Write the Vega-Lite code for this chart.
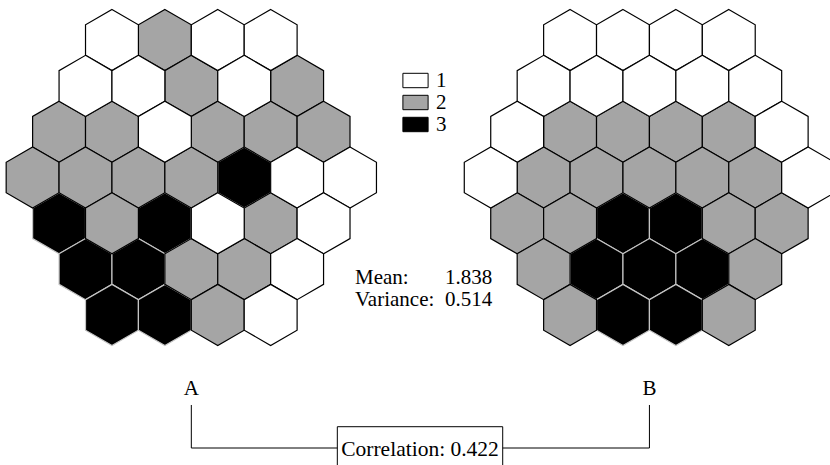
{
  "$schema": "https://vega.github.io/schema/vega-lite/v6.json",
  "width": 830,
  "height": 465,
  "autosize": {"type": "fit", "contains": "padding"},
  "padding": 0,
  "background": "white",
  "config": {"view": {"stroke": null}, "font": "Liberation Serif"},
  "layer": [
    {
      "data": {"values": [
        {"grid": "A", "y": 0, "x": -3, "v": 1}, {"grid": "A", "y": 0, "x": -1, "v": 2}, {"grid": "A", "y": 0, "x": 1, "v": 1}, {"grid": "A", "y": 0, "x": 3, "v": 1},
        {"grid": "A", "y": 1, "x": -4, "v": 1}, {"grid": "A", "y": 1, "x": -2, "v": 1}, {"grid": "A", "y": 1, "x": 0, "v": 2}, {"grid": "A", "y": 1, "x": 2, "v": 1}, {"grid": "A", "y": 1, "x": 4, "v": 2},
        {"grid": "A", "y": 2, "x": -5, "v": 2}, {"grid": "A", "y": 2, "x": -3, "v": 2}, {"grid": "A", "y": 2, "x": -1, "v": 1}, {"grid": "A", "y": 2, "x": 1, "v": 2}, {"grid": "A", "y": 2, "x": 3, "v": 2}, {"grid": "A", "y": 2, "x": 5, "v": 2},
        {"grid": "A", "y": 3, "x": -6, "v": 2}, {"grid": "A", "y": 3, "x": -4, "v": 2}, {"grid": "A", "y": 3, "x": -2, "v": 2}, {"grid": "A", "y": 3, "x": 0, "v": 2}, {"grid": "A", "y": 3, "x": 2, "v": 3}, {"grid": "A", "y": 3, "x": 4, "v": 1}, {"grid": "A", "y": 3, "x": 6, "v": 1},
        {"grid": "A", "y": 4, "x": -5, "v": 3}, {"grid": "A", "y": 4, "x": -3, "v": 2}, {"grid": "A", "y": 4, "x": -1, "v": 3}, {"grid": "A", "y": 4, "x": 1, "v": 1}, {"grid": "A", "y": 4, "x": 3, "v": 2}, {"grid": "A", "y": 4, "x": 5, "v": 1},
        {"grid": "A", "y": 5, "x": -4, "v": 3}, {"grid": "A", "y": 5, "x": -2, "v": 3}, {"grid": "A", "y": 5, "x": 0, "v": 2}, {"grid": "A", "y": 5, "x": 2, "v": 2}, {"grid": "A", "y": 5, "x": 4, "v": 1},
        {"grid": "A", "y": 6, "x": -3, "v": 3}, {"grid": "A", "y": 6, "x": -1, "v": 3}, {"grid": "A", "y": 6, "x": 1, "v": 2}, {"grid": "A", "y": 6, "x": 3, "v": 1},
        {"grid": "B", "y": 0, "x": 14.32, "v": 1}, {"grid": "B", "y": 0, "x": 16.32, "v": 1}, {"grid": "B", "y": 0, "x": 18.32, "v": 1}, {"grid": "B", "y": 0, "x": 20.32, "v": 1},
        {"grid": "B", "y": 1, "x": 13.32, "v": 1}, {"grid": "B", "y": 1, "x": 15.32, "v": 1}, {"grid": "B", "y": 1, "x": 17.32, "v": 1}, {"grid": "B", "y": 1, "x": 19.32, "v": 1}, {"grid": "B", "y": 1, "x": 21.32, "v": 1},
        {"grid": "B", "y": 2, "x": 12.32, "v": 1}, {"grid": "B", "y": 2, "x": 14.32, "v": 2}, {"grid": "B", "y": 2, "x": 16.32, "v": 2}, {"grid": "B", "y": 2, "x": 18.32, "v": 2}, {"grid": "B", "y": 2, "x": 20.32, "v": 2}, {"grid": "B", "y": 2, "x": 22.32, "v": 1},
        {"grid": "B", "y": 3, "x": 11.32, "v": 1}, {"grid": "B", "y": 3, "x": 13.32, "v": 2}, {"grid": "B", "y": 3, "x": 15.32, "v": 2}, {"grid": "B", "y": 3, "x": 17.32, "v": 2}, {"grid": "B", "y": 3, "x": 19.32, "v": 2}, {"grid": "B", "y": 3, "x": 21.32, "v": 2}, {"grid": "B", "y": 3, "x": 23.32, "v": 1},
        {"grid": "B", "y": 4, "x": 12.32, "v": 2}, {"grid": "B", "y": 4, "x": 14.32, "v": 2}, {"grid": "B", "y": 4, "x": 16.32, "v": 3}, {"grid": "B", "y": 4, "x": 18.32, "v": 3}, {"grid": "B", "y": 4, "x": 20.32, "v": 2}, {"grid": "B", "y": 4, "x": 22.32, "v": 2},
        {"grid": "B", "y": 5, "x": 13.32, "v": 2}, {"grid": "B", "y": 5, "x": 15.32, "v": 3}, {"grid": "B", "y": 5, "x": 17.32, "v": 3}, {"grid": "B", "y": 5, "x": 19.32, "v": 3}, {"grid": "B", "y": 5, "x": 21.32, "v": 2},
        {"grid": "B", "y": 6, "x": 14.32, "v": 2}, {"grid": "B", "y": 6, "x": 16.32, "v": 3}, {"grid": "B", "y": 6, "x": 18.32, "v": 3}, {"grid": "B", "y": 6, "x": 20.32, "v": 2}
      ]},
      "mark": {"type": "point", "shape": "M0,-1L0.866,-0.5L0.866,0.5L0,1L-0.866,0.5L-0.866,-0.5Z", "filled": true, "opacity": 1, "size": 3731, "strokeWidth": 1.2, "clip": true},
      "encoding": {
        "x": {"field": "x", "type": "quantitative", "scale": {"domain": [-7.233, 24.147], "nice": false, "zero": false}, "axis": null},
        "y": {"field": "y", "type": "quantitative", "scale": {"domain": [-0.875, 9.276], "nice": false, "zero": false, "reverse": true}, "axis": null},
        "color": {
          "field": "v", "type": "ordinal",
          "scale": {"domain": [1, 2, 3], "range": ["#ffffff", "#a5a5a5", "#000000"]},
          "legend": {
            "orient": "none", "legendX": 405, "legendY": 70, "title": null,
            "symbolType": "M-1.4,-0.8L1.4,-0.8L1.4,0.8L-1.4,0.8Z", "symbolSize": 324,
            "symbolStrokeColor": "black", "symbolStrokeWidth": 1, "symbolOpacity": 1,
            "labelFont": "Liberation Serif", "labelFontSize": 21, "labelColor": "black",
            "labelOffset": 10, "rowPadding": 0,
            "encode": {"symbols": {"update": {"stroke": {"value": "black"}, "strokeWidth": {"value": 1}, "opacity": {"value": 1}}}}
          }
        },
        "stroke": {"condition": {"test": "datum.v === 3", "value": "#c4c4c4"}, "value": "black"},
        "order": {"field": "v", "type": "quantitative", "sort": "descending"}
      }
    },
    {
      "data": {"values": [{}]},
      "mark": {"type": "rect", "fill": "white", "stroke": "black", "strokeWidth": 1, "clip": true},
      "encoding": {
        "x": {"datum": 5.52, "type": "quantitative", "scale": {"domain": [-7.233, 24.147], "nice": false, "zero": false}, "axis": null},
        "x2": {"datum": 11.773},
        "y": {"datum": 8.44, "type": "quantitative", "scale": {"domain": [-0.875, 9.276], "nice": false, "zero": false, "reverse": true}, "axis": null},
        "y2": {"datum": 9.385}
      }
    },
    {
      "data": {"values": [{}]},
      "mark": {"type": "rule", "stroke": "black", "strokeWidth": 1},
      "encoding": {"x": {"datum": 0, "type": "quantitative"}, "y": {"datum": 7.966, "type": "quantitative"}, "y2": {"datum": 8.905}}
    },
    {
      "data": {"values": [{}]},
      "mark": {"type": "rule", "stroke": "black", "strokeWidth": 1},
      "encoding": {"x": {"datum": 17.32, "type": "quantitative"}, "y": {"datum": 7.966, "type": "quantitative"}, "y2": {"datum": 8.905}}
    },
    {
      "data": {"values": [{}]},
      "mark": {"type": "rule", "stroke": "black", "strokeWidth": 1},
      "encoding": {"x": {"datum": 0, "type": "quantitative"}, "x2": {"datum": 5.52}, "y": {"datum": 8.905, "type": "quantitative"}}
    },
    {
      "data": {"values": [{}]},
      "mark": {"type": "rule", "stroke": "black", "strokeWidth": 1},
      "encoding": {"x": {"datum": 11.773, "type": "quantitative"}, "x2": {"datum": 17.32}, "y": {"datum": 8.905, "type": "quantitative"}}
    },
    {
      "data": {"values": [{}]},
      "mark": {"type": "text", "text": "Correlation: 0.422", "align": "center", "baseline": "alphabetic", "fontSize": 21.5, "font": "Liberation Serif", "color": "black"},
      "encoding": {"x": {"datum": 8.647, "type": "quantitative"}, "y": {"datum": 9.079, "type": "quantitative"}}
    },
    {
      "data": {"values": [{}]},
      "mark": {"type": "text", "text": "A", "align": "center", "baseline": "alphabetic", "fontSize": 21, "font": "Liberation Serif", "color": "black"},
      "encoding": {"x": {"datum": 0, "type": "quantitative"}, "y": {"datum": 7.748, "type": "quantitative"}}
    },
    {
      "data": {"values": [{}]},
      "mark": {"type": "text", "text": "B", "align": "center", "baseline": "alphabetic", "fontSize": 21, "font": "Liberation Serif", "color": "black"},
      "encoding": {"x": {"datum": 17.32, "type": "quantitative"}, "y": {"datum": 7.748, "type": "quantitative"}}
    },
    {
      "data": {"values": [{}]},
      "mark": {"type": "text", "text": "Mean:", "align": "left", "baseline": "alphabetic", "fontSize": 21, "font": "Liberation Serif", "color": "black"},
      "encoding": {"x": {"datum": 6.189, "type": "quantitative"}, "y": {"datum": 5.325, "type": "quantitative"}}
    },
    {
      "data": {"values": [{}]},
      "mark": {"type": "text", "text": "Variance:", "align": "left", "baseline": "alphabetic", "fontSize": 21, "font": "Liberation Serif", "color": "black"},
      "encoding": {"x": {"datum": 6.189, "type": "quantitative"}, "y": {"datum": 5.805, "type": "quantitative"}}
    },
    {
      "data": {"values": [{}]},
      "mark": {"type": "text", "text": "1.838", "align": "left", "baseline": "alphabetic", "fontSize": 21, "font": "Liberation Serif", "color": "black"},
      "encoding": {"x": {"datum": 9.592, "type": "quantitative"}, "y": {"datum": 5.325, "type": "quantitative"}}
    },
    {
      "data": {"values": [{}]},
      "mark": {"type": "text", "text": "0.514", "align": "left", "baseline": "alphabetic", "fontSize": 21, "font": "Liberation Serif", "color": "black"},
      "encoding": {"x": {"datum": 9.592, "type": "quantitative"}, "y": {"datum": 5.805, "type": "quantitative"}}
    }
  ]
}
